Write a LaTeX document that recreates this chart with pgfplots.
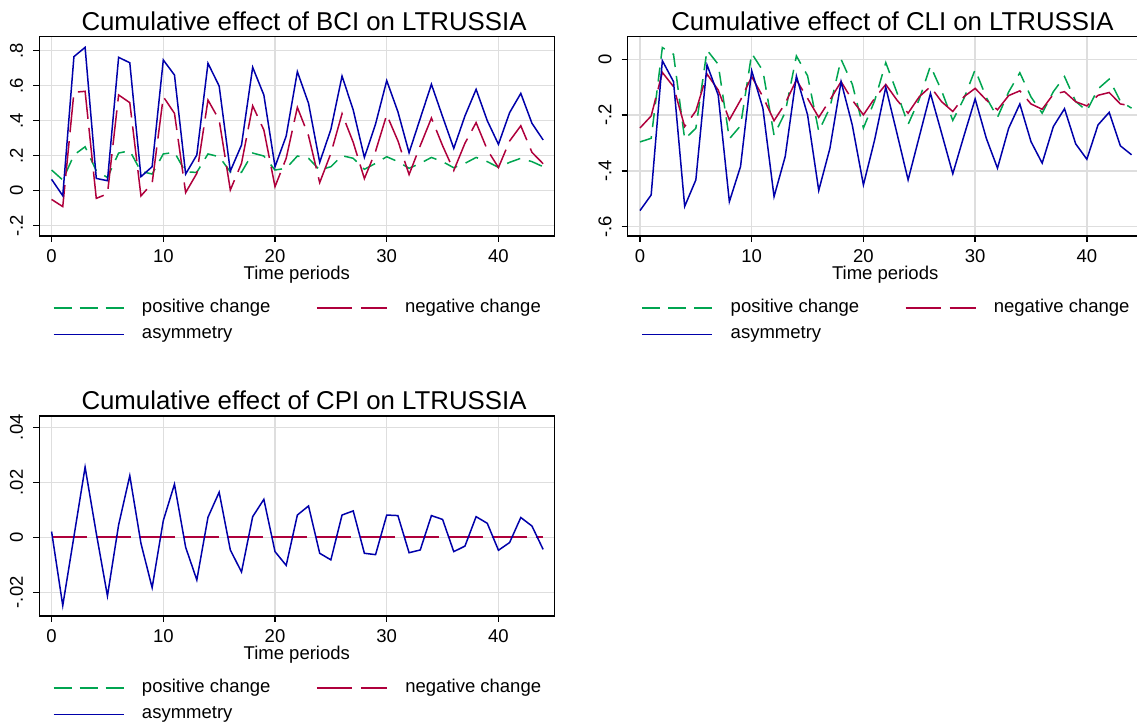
\documentclass[border=0pt]{standalone}
\usepackage{fontspec}
\setmainfont{Liberation Sans}
\usepackage{pgfplots}
\usepackage{pgfplotstable}
\pgfplotsset{compat=1.18}
\definecolor{cpos}{RGB}{0,165,80}
\definecolor{cneg}{RGB}{175,0,60}
\definecolor{casym}{RGB}{0,0,170}
\definecolor{cgrid}{RGB}{222,222,222}

\pgfplotstableread{
x pos neg asym
0 0.118 -0.050 0.065
1 0.061 -0.091 -0.029
2 0.204 0.562 0.766
3 0.251 0.568 0.819
4 0.114 -0.044 0.070
5 0.075 -0.018 0.057
6 0.215 0.547 0.762
7 0.228 0.503 0.731
8 0.110 -0.030 0.080
9 0.095 0.042 0.137
10 0.210 0.537 0.747
11 0.219 0.442 0.661
12 0.106 -0.011 0.095
13 0.105 0.099 0.204
14 0.210 0.518 0.728
15 0.194 0.404 0.598
16 0.108 0.004 0.112
17 0.105 0.156 0.261
18 0.215 0.485 0.705
19 0.198 0.347 0.547
20 0.118 0.023 0.137
21 0.128 0.185 0.312
22 0.198 0.476 0.680
23 0.185 0.314 0.499
24 0.118 0.046 0.162
25 0.137 0.213 0.350
26 0.200 0.440 0.655
27 0.185 0.276 0.461
28 0.122 0.069 0.190
29 0.156 0.225 0.381
30 0.194 0.434 0.629
31 0.166 0.285 0.451
32 0.128 0.092 0.217
33 0.156 0.257 0.413
34 0.190 0.415 0.608
35 0.166 0.257 0.423
36 0.131 0.115 0.242
37 0.156 0.271 0.427
38 0.190 0.389 0.579
39 0.166 0.234 0.400
40 0.133 0.132 0.265
41 0.162 0.284 0.446
42 0.185 0.371 0.556
43 0.166 0.219 0.385
44 0.137 0.154 0.290
}\bci

\pgfplotstableread{
x pos neg asym
0 -0.296 -0.246 -0.542
1 -0.283 -0.203 -0.486
2 0.042 -0.047 -0.005
3 0.018 -0.098 -0.080
4 -0.286 -0.241 -0.527
5 -0.247 -0.185 -0.432
6 0.033 -0.053 -0.020
7 -0.018 -0.110 -0.128
8 -0.285 -0.217 -0.510
9 -0.238 -0.146 -0.384
10 0.021 -0.062 -0.041
11 -0.041 -0.134 -0.175
12 -0.272 -0.220 -0.492
13 -0.190 -0.158 -0.348
14 0.012 -0.074 -0.060
15 -0.059 -0.140 -0.199
16 -0.258 -0.208 -0.470
17 -0.173 -0.146 -0.319
18 0.000 -0.080 -0.080
19 -0.089 -0.146 -0.235
20 -0.246 -0.199 -0.450
21 -0.149 -0.140 -0.289
22 -0.012 -0.090 -0.100
23 -0.119 -0.146 -0.265
24 -0.233 -0.193 -0.432
25 -0.143 -0.134 -0.277
26 -0.024 -0.098 -0.122
27 -0.113 -0.152 -0.265
28 -0.219 -0.187 -0.410
29 -0.140 -0.134 -0.274
30 -0.037 -0.104 -0.142
31 -0.137 -0.146 -0.283
32 -0.208 -0.181 -0.390
33 -0.117 -0.130 -0.247
34 -0.048 -0.113 -0.160
35 -0.135 -0.160 -0.295
36 -0.193 -0.179 -0.372
37 -0.116 -0.125 -0.241
38 -0.062 -0.116 -0.177
39 -0.151 -0.152 -0.303
40 -0.185 -0.167 -0.358
41 -0.106 -0.129 -0.235
42 -0.071 -0.119 -0.190
43 -0.150 -0.160 -0.310
44 -0.175 -0.167 -0.342
}\cli

\pgfplotstableread{
x pos neg asym
0 0 0 0.0021
1 0 0 -0.0248
2 0 0 0.0003
3 0 0 0.0255
4 0 0 0.0015
5 0 0 -0.0213
6 0 0 0.0045
7 0 0 0.0224
8 0 0 -0.0022
9 0 0 -0.0183
10 0 0 0.0061
11 0 0 0.0193
12 0 0 -0.0036
13 0 0 -0.0155
14 0 0 0.0073
15 0 0 0.0164
16 0 0 -0.0046
17 0 0 -0.0126
18 0 0 0.0075
19 0 0 0.0138
20 0 0 -0.0052
21 0 0 -0.0102
22 0 0 0.0081
23 0 0 0.0114
24 0 0 -0.0058
25 0 0 -0.0082
26 0 0 0.0081
27 0 0 0.0096
28 0 0 -0.0058
29 0 0 -0.0063
30 0 0 0.0081
31 0 0 0.0079
32 0 0 -0.0056
33 0 0 -0.0046
34 0 0 0.0079
35 0 0 0.0065
36 0 0 -0.0052
37 0 0 -0.0032
38 0 0 0.0075
39 0 0 0.0051
40 0 0 -0.0047
41 0 0 -0.0019
42 0 0 0.0072
43 0 0 0.0041
44 0 0 -0.0044
}\cpi

\pgfplotsset{
  stbase/.style={
    scale only axis, width=515pt, height=199.3pt,
    xmin=-1.1, xmax=45, xtick={0,10,20,30,40}, xticklabels={0,10,20,30,40},
    scaled y ticks=false, scaled x ticks=false,
    grid=major, major grid style={cgrid, line width=1.3pt},
    axis line style={black, line width=1.5pt},
    tick style={black, line width=1.3pt}, major tick length=6pt, tick align=outside,
    xtick pos=left, ytick pos=left,
    tick label style={font=\fontsize{18.5}{22}\selectfont},
    xticklabel style={anchor=base, yshift=-21pt},
    yticklabel style={xshift=-10.3pt, rotate=90, anchor=base},
    xlabel={Time periods},
    xlabel style={at={(axis description cs:0.5,0)}, anchor=base, yshift=-43.3pt, font=\fontsize{18.5}{22}\selectfont},
    title style={anchor=base, font=\fontsize{25.8}{30}\selectfont},
    legend image code/.code={\draw[##1] (0pt,0pt) -- (70pt,0pt);},
    legend style={draw=none, fill=none, inner sep=0pt, outer sep=0pt,
      font=\fontsize{18.5}{22}\selectfont, legend columns=2, row sep=7.3pt,
      nodes={inner sep=0pt, text height=14pt, text depth=5pt},
      /tikz/every odd column/.append style={column sep=17.5pt},
      /tikz/every even column/.append style={column sep=45.5pt}},
    legend cell align=left,
  },
  pos/.style={cpos, line width=1.5pt, dash pattern=on 14pt off 9pt,
    legend image post style={dash pattern=on 18pt off 8pt}},
  neg/.style={cneg, line width=1.5pt, dash pattern=on 35pt off 9pt},
  asym/.style={casym, line width=1.5pt},
}

\begin{document}
\begin{tikzpicture}
\path[use as bounding box] (0pt,0pt) rectangle (1137pt,722pt);

\begin{axis}[stbase, at={(39.3pt,486pt)}, anchor=south west,
  ymin=-0.259, ymax=0.88, ytick={-0.2,0,0.2,0.4,0.6,0.8},
  yticklabels={{-.2},{0},{.2},{.4},{.6},{.8}},
  title={Cumulative effect of BCI on LTRUSSIA},
  title style={at={(axis description cs:0.514,1)}},
  legend style={at={(axis description cs:0.0266,-0.3146)}, anchor=north west}]
\addplot[pos] table[x=x,y=pos] {\bci};
\addplot[neg] table[x=x,y=neg] {\bci};
\addplot[asym] table[x=x,y=asym] {\bci};
\legend{positive change, negative change, asymmetry}
\end{axis}

\begin{axis}[stbase, at={(627.7pt,486pt)}, anchor=south west,
  ymin=-0.633, ymax=0.081, ytick={-0.6,-0.4,-0.2,0},
  yticklabels={{-.6},{-.4},{-.2},{0}},
  title={Cumulative effect of CLI on LTRUSSIA},
  title style={at={(axis description cs:0.514,1)}},
  legend style={at={(axis description cs:0.0272,-0.3146)}, anchor=north west}]
\addplot[pos] table[x=x,y=pos] {\cli};
\addplot[neg] table[x=x,y=neg] {\cli};
\addplot[asym] table[x=x,y=asym] {\cli};
\legend{positive change, negative change, asymmetry}
\end{axis}

\begin{axis}[stbase, at={(39.3pt,106pt)}, anchor=south west, height=200pt,
  ymin=-0.0286, ymax=0.0441, ytick={-0.02,0,0.02,0.04},
  yticklabels={{-.02},{0},{.02},{.04}},
  title={Cumulative effect of CPI on LTRUSSIA},
  title style={at={(axis description cs:0.514,1)}},
  legend style={at={(axis description cs:0.0266,-0.3135)}, anchor=north west}]
\addlegendimage{pos}
\addplot[cpos, line width=0.8pt, dash pattern=on 35pt off 9pt, forget plot] table[x=x,y=pos] {\cpi};
\addplot[neg, line width=1.8pt] table[x=x,y=neg] {\cpi};
\addplot[asym] table[x=x,y=asym] {\cpi};
\legend{positive change, negative change, asymmetry}
\end{axis}
\end{tikzpicture}
\end{document}
